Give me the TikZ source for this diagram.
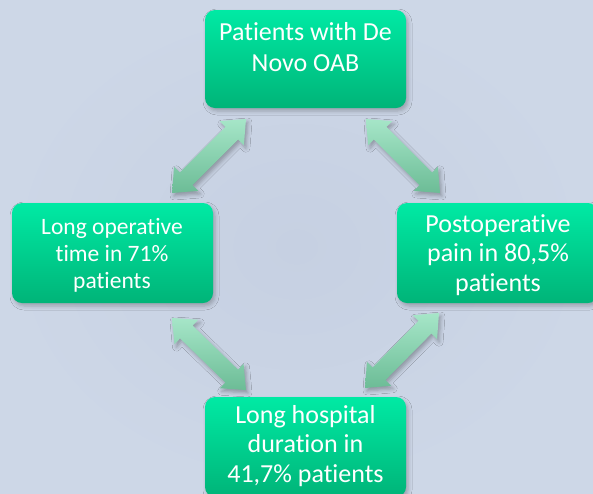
\documentclass[tikz,border=0pt]{standalone}
\usepackage{fontspec}
\setmainfont{Carlito}[Ligatures={NoCommon,NoRequired,NoContextual}]
\usetikzlibrary{calc,shadows.blur}
\definecolor{bgin}{RGB}{198,208,226}
\definecolor{bgout}{RGB}{205,215,231}
\definecolor{boxtop}{RGB}{0,234,164}
\definecolor{boxbot}{RGB}{0,180,120}
\definecolor{arrtop}{RGB}{166,230,200}
\definecolor{arrbot}{RGB}{108,188,150}
\tikzset{
  box/.style={rounded corners=10pt, top color=boxtop, bottom color=boxbot, draw=none,
    blur shadow={shadow xshift=2pt, shadow yshift=-3pt, shadow blur radius=4pt, shadow opacity=25}},
  txt/.style={text=white, align=center, inner sep=0pt},
  blockarrow/.style={top color=arrtop, bottom color=arrbot, draw=none,
    blur shadow={shadow xshift=2pt, shadow yshift=-3pt, shadow blur radius=4pt, shadow opacity=30}},
}
\newcommand{\dblblock}[2]{%
  \path[blockarrow] (#1)
    -- ($(#1)!20pt!(#2)!17pt!90:(#2)$)
    -- ($(#1)!20pt!(#2)!9pt!90:(#2)$)
    -- ($(#2)!20pt!(#1)!9pt!-90:(#1)$)
    -- ($(#2)!20pt!(#1)!17pt!-90:(#1)$)
    -- (#2)
    -- ($(#2)!20pt!(#1)!17pt!90:(#1)$)
    -- ($(#2)!20pt!(#1)!9pt!90:(#1)$)
    -- ($(#1)!20pt!(#2)!9pt!-90:(#2)$)
    -- ($(#1)!20pt!(#2)!17pt!-90:(#2)$)
    -- cycle;}
\begin{document}
\begin{tikzpicture}[x=1pt,y=-1pt]
\useasboundingbox (0,0) rectangle (593,493);
\shade[inner color=bgin, outer color=bgout] (0,0) rectangle (593,493);

% boxes
\path[box] (205,10) rectangle (406,108);
\path[box] (12,203) rectangle (213,303);
\path[box] (397,203) rectangle (598,303);
\path[box] (205,397) rectangle (406,497);

\node[txt, font=\fontsize{26}{31}\selectfont] (top) at (305.5,47.5) {Patients with De\\Novo OAB};
\node[txt, font=\fontsize{23.5}{27}\selectfont] (left) at (112,255) {Long operative\\time in 71\%\\patients};
\node[txt, font=\fontsize{26}{29.5}\selectfont] (right) at (498,255) {Postoperative\\pain in 80,5\%\\patients};
\node[txt, font=\fontsize{26}{29.5}\selectfont] (bottom) at (305.5,446) {Long hospital\\duration in\\41,7\% patients};

% arrows
\coordinate (a1s) at (172,193); \coordinate (a1e) at (246,119);
\coordinate (a2s) at (366,119); \coordinate (a2e) at (440,193);
\coordinate (a3s) at (172,318); \coordinate (a3e) at (246,390);
\coordinate (a4s) at (439,313); \coordinate (a4e) at (365,388);
\dblblock{a1s}{a1e}
\dblblock{a2s}{a2e}
\dblblock{a3s}{a3e}
\dblblock{a4s}{a4e}
\end{tikzpicture}
\end{document}
